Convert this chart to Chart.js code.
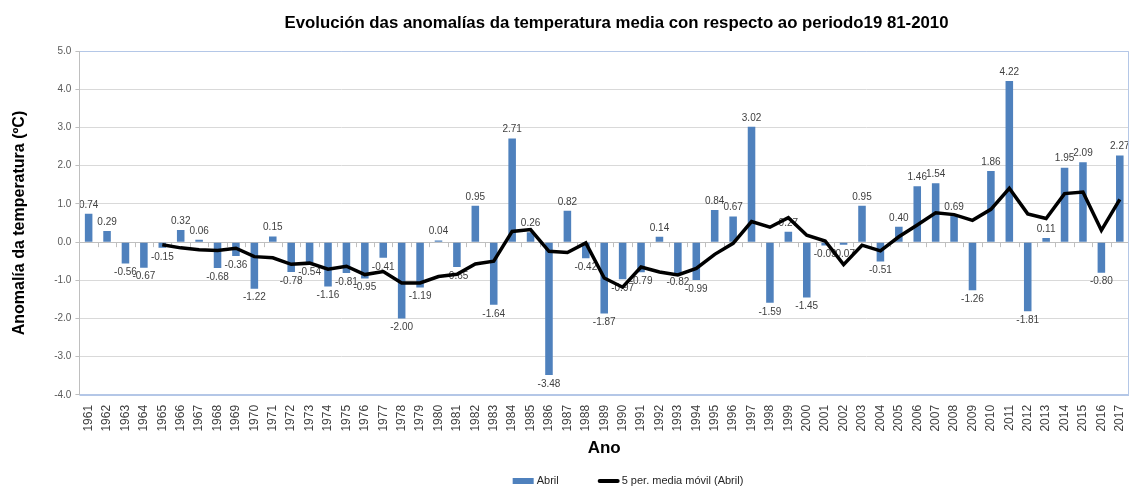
<!DOCTYPE html>
<html>
<head>
<meta charset="utf-8">
<script src="https://cdn.jsdelivr.net/npm/chart.js@4"></script>
<style>
html,body{margin:0;padding:0;background:#fff;}
#wrap{width:1130px;height:487px;position:relative;}
</style>
</head>
<body>
<div id="wrap"><canvas id="c"></canvas></div>
<script>
const years = ["1961","1962","1963","1964","1965","1966","1967","1968","1969","1970",
"1971","1972","1973","1974","1975","1976","1977","1978","1979","1980",
"1981","1982","1983","1984","1985","1986","1987","1988","1989","1990",
"1991","1992","1993","1994","1995","1996","1997","1998","1999","2000",
"2001","2002","2003","2004","2005","2006","2007","2008","2009","2010",
"2011","2012","2013","2014","2015","2016","2017"];

const abril = [0.74,0.29,-0.56,-0.67,-0.15,0.32,0.06,-0.68,-0.36,-1.22,
0.15,-0.78,-0.54,-1.16,-0.81,-0.95,-0.41,-2.00,-1.19,0.04,
-0.65,0.95,-1.64,2.71,0.26,-3.48,0.82,-0.42,-1.87,-0.97,
-0.79,0.14,-0.82,-0.99,0.84,0.67,3.02,-1.59,0.27,-1.45,
-0.09,-0.07,0.95,-0.51,0.40,1.46,1.54,0.69,-1.26,1.86,
4.22,-1.81,0.11,1.95,2.09,-0.80,2.27];

const mediaMovil = [null,null,null,null,-0.07,-0.15,-0.20,-0.22,-0.16,-0.38,
-0.41,-0.58,-0.55,-0.71,-0.63,-0.85,-0.77,-1.07,-1.07,-0.90,
-0.84,-0.57,-0.50,0.28,0.33,-0.24,-0.27,-0.02,-0.94,-1.18,
-0.65,-0.78,-0.86,-0.69,-0.32,-0.03,0.54,0.39,0.64,0.18,
0.03,-0.59,-0.08,-0.23,0.14,0.45,0.77,0.72,0.57,0.86,
1.41,0.74,0.62,1.27,1.31,0.31,1.12];

const yTicks = [-4,-3,-2,-1,0,1,2,3,4,5];

const FONT = "'Liberation Sans', Arial, sans-serif";

const frame = {
  id: 'frame',
  afterLayout(chart) {
    const t = chart.titleBlock;
    if (t) { t.left += 47; t.right += 47; }
  },
  beforeDatasetsDraw(chart) {
    const {ctx, chartArea: a, scales: {x, y}} = chart;
    ctx.save();
    const y0 = y.getPixelForValue(0);
    ctx.strokeStyle = '#bfbfbf';
    ctx.lineWidth = 1;
    ctx.beginPath();
    ctx.moveTo(a.left, Math.round(y0) + 0.5);
    ctx.lineTo(a.right, Math.round(y0) + 0.5);
    for (let i = 0; i < years.length - 1; i++) {
      const bx = Math.round((x.getPixelForValue(i) + x.getPixelForValue(i + 1)) / 2) + 0.5;
      ctx.moveTo(bx, y0);
      ctx.lineTo(bx, y0 + 5);
    }
    ctx.stroke();
    ctx.restore();
  },
  afterDraw(chart) {
    const {ctx, chartArea: a} = chart;
    ctx.save();
    ctx.strokeStyle = '#b4c7e7';
    ctx.lineWidth = 1;
    ctx.beginPath();
    ctx.moveTo(a.left, Math.round(a.top) + 0.5);
    ctx.lineTo(Math.round(a.right) - 0.5, Math.round(a.top) + 0.5);
    ctx.lineTo(Math.round(a.right) - 0.5, a.bottom);
    ctx.stroke();
    ctx.lineWidth = 2;
    ctx.beginPath();
    ctx.moveTo(a.left, Math.round(a.bottom));
    ctx.lineTo(a.right, Math.round(a.bottom));
    ctx.stroke();
    ctx.strokeStyle = '#bfbfbf';
    ctx.lineWidth = 1;
    ctx.beginPath();
    ctx.moveTo(Math.round(a.left) + 0.5, a.top);
    ctx.lineTo(Math.round(a.left) + 0.5, a.bottom);
    ctx.stroke();

    // legend (drawn from the datasets' own labels and colours)
    const ds = chart.data.datasets;
    ctx.font = '11px ' + FONT;
    ctx.textBaseline = 'middle';
    ctx.textAlign = 'left';
    const w1 = ctx.measureText(ds[0].label).width;
    const w2 = ctx.measureText(ds[1].label).width;
    const total = 21 + 3 + w1 + 39 + 22 + 2 + w2;
    let lx = 628 - total / 2;
    const ly = 481;
    ctx.fillStyle = ds[0].backgroundColor;
    ctx.fillRect(lx, ly - 3, 21, 6);
    lx += 24;
    ctx.fillStyle = '#262626';
    ctx.fillText(ds[0].label, lx, ly);
    lx += w1 + 39;
    ctx.strokeStyle = ds[1].borderColor;
    ctx.lineWidth = 4;
    ctx.lineCap = 'round';
    ctx.beginPath();
    ctx.moveTo(lx + 2, ly);
    ctx.lineTo(lx + 20, ly);
    ctx.stroke();
    lx += 24;
    ctx.fillText(ds[1].label, lx, ly);
    ctx.restore();
  }
};

const barLabels = {
  id: 'barLabels',
  afterDatasetDraw(chart, args) {
    if (args.index !== 0) return;
    const {ctx} = chart;
    const meta = args.meta;
    ctx.save();
    ctx.font = '10px ' + FONT;
    ctx.fillStyle = '#404040';
    ctx.textAlign = 'center';
    meta.data.forEach((bar, i) => {
      const v = abril[i];
      const txt = v.toFixed(2);
      if (v >= 0) {
        ctx.textBaseline = 'bottom';
        ctx.fillText(txt, bar.x, bar.y - 4);
      } else {
        ctx.textBaseline = 'top';
        ctx.fillText(txt, bar.x, bar.y + 4);
      }
    });
    ctx.restore();
  }
};

new Chart(document.getElementById('c'), {
  data: {
    labels: years,
    datasets: [
      {
        type: 'bar',
        label: 'Abril',
        data: abril,
        backgroundColor: '#4f81bd',
        borderWidth: 0,
        barPercentage: 0.41,
        categoryPercentage: 1.0,
        order: 1
      },
      {
        type: 'line',
        label: '5 per. media móvil (Abril)',
        data: mediaMovil,
        borderColor: '#000000',
        backgroundColor: '#000000',
        borderWidth: 3.5,
        pointRadius: 0,
        tension: 0,
        spanGaps: false,
        order: 0
      }
    ]
  },
  options: {
    responsive: true,
    maintainAspectRatio: false,
    animation: false,
    devicePixelRatio: 1,
    layout: { padding: { left: 10, right: 1, top: 0, bottom: 0 } },
    plugins: {
      tooltip: { enabled: false },
      legend: { display: false },
      title: {
        display: true,
        text: 'Evolución das anomalías da temperatura media con respecto ao periodo19 81-2010',
        color: '#000000',
        font: { family: FONT, size: 16.8, weight: 'bold' },
        padding: { top: 13, bottom: 18 }
      }
    },
    scales: {
      x: {
        type: 'category',
        offset: true,
        afterFit(scale) { scale.paddingRight = 0; scale.paddingLeft = 0; },
        grid: { display: false },
        border: { display: false },
        ticks: {
          color: '#404040',
          font: { family: FONT, size: 12 },
          minRotation: 90,
          maxRotation: 90,
          autoSkip: false,
          padding: 2
        },
        title: {
          display: true,
          text: 'Ano',
          color: '#000000',
          font: { family: FONT, size: 17, weight: 'bold' },
          padding: { top: 5, bottom: 28 }
        }
      },
      y: {
        type: 'linear',
        min: -4,
        max: 5,
        afterBuildTicks(scale) { scale.ticks = yTicks.map(v => ({ value: v })); },
        grid: { color: '#d9d9d9', lineWidth: 1, tickLength: 4, tickColor: '#bfbfbf' },
        border: { display: false },
        ticks: {
          color: '#595959',
          font: { family: FONT, size: 10 },
          padding: 4,
          callback: v => Number(v).toFixed(1)
        },
        title: {
          display: true,
          text: 'Anomalía da temperatura (ºC)',
          color: '#000000',
          font: { family: FONT, size: 16, weight: 'bold' },
          padding: { top: 0, bottom: 21 }
        }
      }
    }
  },
  plugins: [frame, barLabels]
});
</script>
</body>
</html>
